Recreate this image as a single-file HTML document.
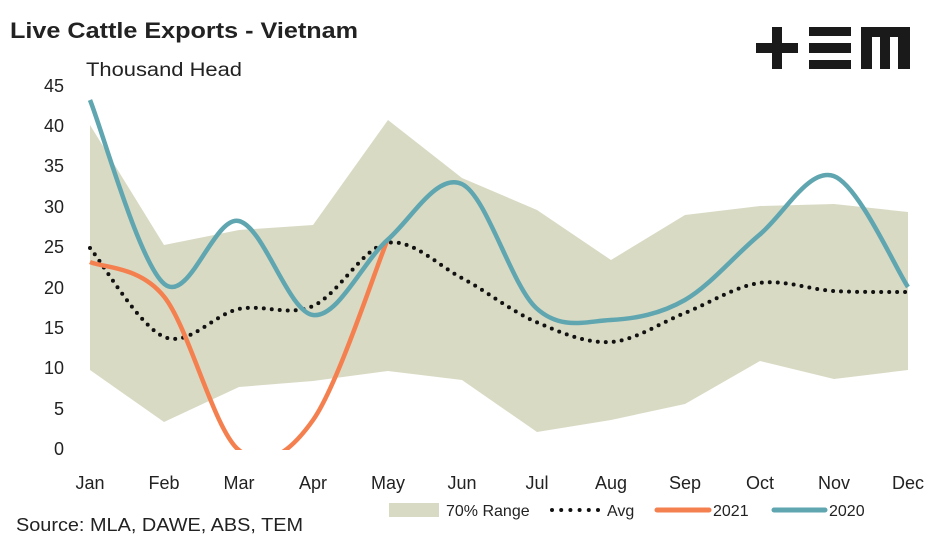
<!DOCTYPE html>
<html><head><meta charset="utf-8"><style>
body{margin:0;background:#fff;width:945px;height:543px;overflow:hidden}
svg text{font-family:"Liberation Sans",sans-serif;fill:#222}
</style></head><body>
<svg width="945" height="543" viewBox="0 0 945 543">
<defs><clipPath id="c"><rect x="0" y="0" width="945" height="450"/></clipPath></defs>
<text x="10" y="38" font-size="22" font-weight="bold" textLength="348" lengthAdjust="spacingAndGlyphs">Live Cattle Exports - Vietnam</text>
<text x="86" y="76" font-size="19" textLength="156" lengthAdjust="spacingAndGlyphs">Thousand Head</text>
<g fill="#1a1a1a">
<rect x="756" y="43" width="42" height="10"/><rect x="772" y="27" width="10" height="42"/>
<rect x="809" y="27" width="42" height="9"/><rect x="809" y="43" width="42" height="10"/><rect x="809" y="60" width="42" height="9"/>
<path d="M861 27H910V69H898V37H890V69H880V37H872V69H861Z"/>
</g>
<g font-size="18" text-anchor="end">
<text x="64" y="455">0</text><text x="64" y="415">5</text><text x="64" y="374">10</text><text x="64" y="334">15</text><text x="64" y="294">20</text><text x="64" y="253">25</text><text x="64" y="213">30</text><text x="64" y="172">35</text><text x="64" y="132">40</text><text x="64" y="92">45</text>
</g>
<g font-size="18" text-anchor="middle">
<text x="90" y="489">Jan</text><text x="164" y="489">Feb</text><text x="239" y="489">Mar</text><text x="313" y="489">Apr</text><text x="388" y="489">May</text><text x="462" y="489">Jun</text><text x="537" y="489">Jul</text><text x="611" y="489">Aug</text><text x="685" y="489">Sep</text><text x="760" y="489">Oct</text><text x="834" y="489">Nov</text><text x="908" y="489">Dec</text>
</g>
<polygon fill="#d9dac4" points="90,125 164,245 239,230 313,225 388,120 462,178 537,210 611,260 685,215 760,206 834,204 908,212 908,370 834,379 760,361 685,404 611,420 537,432 462,380 388,371 313,381 239,387 164,422 90,370"/>
<path id="avg" fill="none" stroke="#111" stroke-width="4" stroke-linecap="round" stroke-dasharray="0 8"/>
<path id="p21" fill="none" stroke="#f5804f" stroke-width="4.5" clip-path="url(#c)"/>
<path id="p20" fill="none" stroke="#5fa6b0" stroke-width="4.5"/>
<rect x="389" y="503" width="50" height="14" fill="#d9dac4"/>
<text x="446" y="516" font-size="16">70% Range</text>
<path d="M552 510H598" stroke="#111" stroke-width="4" stroke-linecap="round" stroke-dasharray="0 9.2"/>
<text x="607" y="516" font-size="16">Avg</text>
<path d="M657 510H709" stroke="#f5804f" stroke-width="5" stroke-linecap="round"/>
<text x="713" y="516" font-size="16">2021</text>
<path d="M774 510H825" stroke="#5fa6b0" stroke-width="5" stroke-linecap="round"/>
<text x="829" y="516" font-size="16">2020</text>
<text x="16" y="531" font-size="18" textLength="287" lengthAdjust="spacingAndGlyphs">Source: MLA, DAWE, ABS, TEM</text>
</svg>
<script>
function cr(p){let d="M"+p[0][0]+" "+p[0][1];for(let i=0;i<p.length-1;i++){const a=p[i-1]||p[i],b=p[i],c=p[i+1],e=p[i+2]||c;d+=" C"+(b[0]+(c[0]-a[0])/6)+" "+(b[1]+(c[1]-a[1])/6)+" "+(c[0]-(e[0]-b[0])/6)+" "+(c[1]-(e[1]-b[1])/6)+" "+c[0]+" "+c[1];}return d;}
const X=i=>90+74.36*i;
const avg=[248,337,309,306,243,278,322,342,313,283,291,292].map((y,i)=>[X(i),y]);
const a21=[262,297,450,420,240].map((y,i)=>[X(i),y]);
const a20=[100,284,221,315,240,184,308,320,300,235,176,287].map((y,i)=>[X(i),y]);
document.getElementById("avg").setAttribute("d",cr(avg));
document.getElementById("p21").setAttribute("d",cr(a21));
document.getElementById("p20").setAttribute("d",cr(a20));
</script>
</body></html>
